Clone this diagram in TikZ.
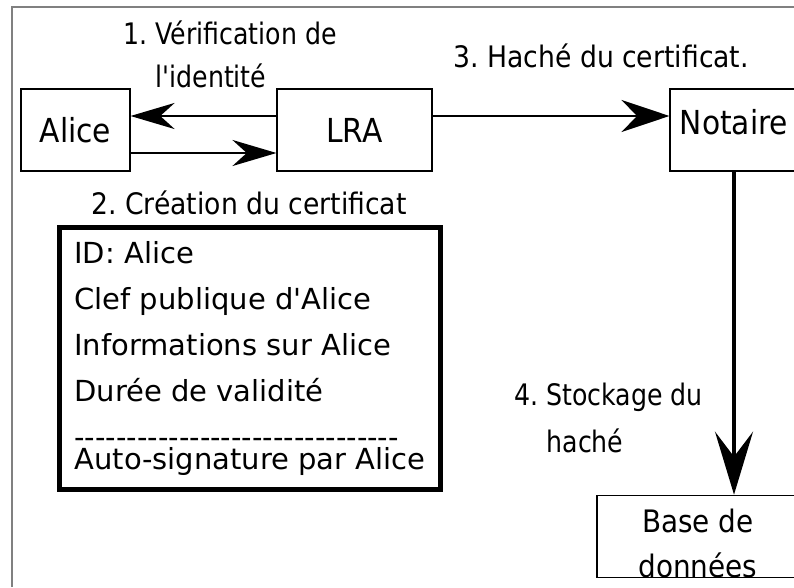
\documentclass[tikz,border=0pt]{standalone}
\usepackage{fontspec}
\setmainfont{DejaVu Sans}
\newfontfamily\condfont{DejaVu Sans Condensed}
\newfontfamily\etroitfont{DejaVu Sans Condensed}[FakeStretch=0.947]
\newfontfamily\certfont{DejaVu Sans}
\usetikzlibrary{arrows.meta}
\frenchspacing

\begin{document}
\begin{tikzpicture}[line width=1.7pt,
  boite/.style={draw, line width=0.6pt, minimum height=1.64cm, inner sep=0pt,
    font=\condfont\fontsize{18.8}{22}\selectfont},
  etiq/.style={inner sep=0pt, align=left, anchor=base west,
    font=\condfont\fontsize{16.85}{25.6}\selectfont},
  etroit/.style={font=\etroitfont\fontsize{16.85}{#1}\selectfont},
  fleche/.style={-{Stealth[length=0.88cm, width=0.52cm]}},
  certif/.style={draw, line width=2.6pt, minimum width=7.62cm, minimum height=5.24cm,
    inner xsep=0.3cm, align=left,
    font=\certfont\fontsize{16.5}{26.2}\selectfont}]
\useasboundingbox (0,0) rectangle (15.88,11.74);
\draw[gray, line width=1pt] (0.24,0) -- (0.24,11.6) -- (15.88,11.6);

\node[boite, minimum width=2.18cm] (alice) at (1.51,9.14) {Alice};
\node[boite, minimum width=3.1cm] (lra) at (7.09,9.14) {LRA};
\node[boite, minimum width=2.56cm, text height=14pt, text depth=9.4pt] (notaire) at (14.68,9.14) {Notaire};
\node[boite, minimum width=4.04cm, minimum height=1.46cm, align=center, text height=47pt, text depth=0pt,
  font=\condfont\fontsize{17.6}{25.6}\selectfont] (bdd) at (13.96,1.01) {Base de\\données};

\node[certif] (cert) at (5.0,4.57) {ID: Alice\\Clef publique d'Alice\\Informations sur Alice\\Durée de validité\\-{}-{}-{}-{}-{}-{}-{}-{}-{}-{}-{}-{}-{}-{}-{}-{}-{}-{}-{}-{}-{}-{}-{}-{}-{}-{}-{}-{}-{}-{}-{}\\[-13.7pt]Auto-signature par Alice};

\node[etiq, etroit=24.5pt] (verif) at (2.44,9.98) {1. Vérification de\\\phantom{1. }l'identité};
\node[etiq] (creation) at (1.8,7.46) {2. Création du certificat};
\node[etiq] (hache) at (9.04,10.38) {3. Haché du certificat.};
\node[etiq, etroit=26.5pt] (stockage) at (10.26,2.7) {4. Stockage du\\\phantom{4. }haché};

\draw[fleche] ([yshift=0.28cm]lra.west) -- ([yshift=0.28cm]alice.east);
\draw[fleche] ([yshift=-0.46cm]alice.east) -- ([yshift=-0.46cm]lra.west);
\draw[-{Stealth[length=0.96cm, width=0.64cm]}] ([yshift=0.28cm]lra.east) -- ([yshift=0.28cm]notaire.west);
\draw[-{Stealth[length=1.26cm, width=0.76cm, inset=0.5cm]}, line width=2pt] (notaire.south) -- (notaire.south |- bdd.north);
\end{tikzpicture}
\end{document}
